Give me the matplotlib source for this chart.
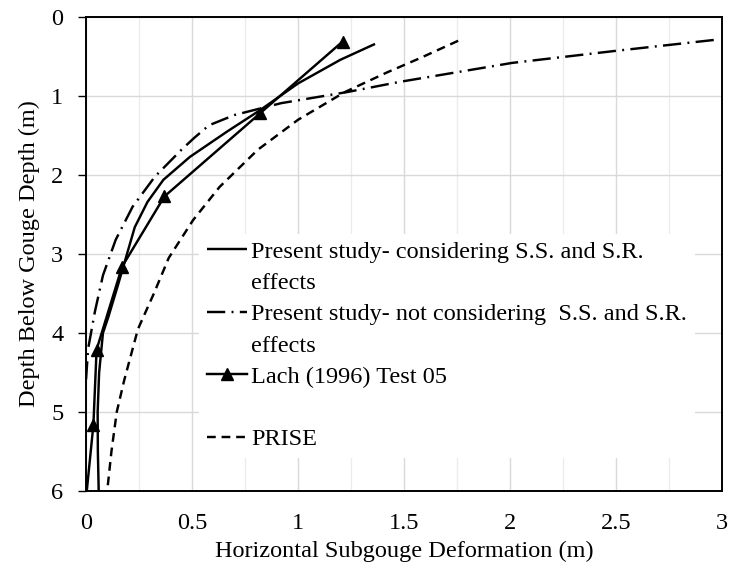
import matplotlib
matplotlib.use("Agg")
import matplotlib.pyplot as plt
from matplotlib.lines import Line2D
from matplotlib.ticker import MultipleLocator

plt.rcParams['font.family'] = ['Liberation Serif', 'DejaVu Serif']

# Present study - considering S.S. and S.R. effects
ps_x = [1.363, 1.20, 1.00, 0.82, 0.665, 0.49, 0.365, 0.29, 0.23, 0.19, 0.15, 0.105, 0.08, 0.062, 0.055, 0.056, 0.06]
ps_y = [0.34, 0.54, 0.84, 1.18, 1.45, 1.77, 2.06, 2.34, 2.66, 3.03, 3.40, 3.80, 4.00, 4.50, 5.00, 5.50, 6.00]

# Present study - not considering S.S. and S.R. effects
pn_x = [2.96, 2.49, 2.01, 1.48, 1.23, 0.92, 0.70, 0.58, 0.51, 0.45, 0.325, 0.22, 0.14, 0.08, 0.042, 0.01, 0.0]
pn_y = [0.29, 0.43, 0.58, 0.82, 0.95, 1.09, 1.24, 1.37, 1.53, 1.68, 2.02, 2.40, 2.82, 3.27, 3.73, 4.20, 4.60]

# Lach (1996) Test 05
lach_x = [1.21, 0.82, 0.37, 0.17, 0.05, 0.035, 0.0]
lach_y = [0.31, 1.22, 2.27, 3.16, 4.21, 5.16, 6.10]

# PRISE
pr_x = [1.755, 1.575, 1.42, 1.22, 1.00, 0.81, 0.63, 0.505, 0.39, 0.32, 0.245, 0.18, 0.145, 0.12, 0.10]
pr_y = [0.30, 0.52, 0.70, 0.95, 1.30, 1.68, 2.15, 2.57, 3.05, 3.50, 3.95, 4.60, 5.00, 5.50, 6.00]

labels = ["Present study- considering S.S. and S.R.",
          "Present study- not considering  S.S. and S.R.",
          "Lach (1996) Test 05",
          "PRISE"]
second_line = "effects"

x_ticks = [0, 0.5, 1, 1.5, 2, 2.5, 3]
x_tick_labels = ["0", "0.5", "1", "1.5", "2", "2.5", "3"]
y_ticks = [0, 1, 2, 3, 4, 5, 6]

FS = 17.5

fig = plt.figure(figsize=(7.33, 5.69), dpi=100)
ax = fig.add_axes([0.1173, 0.137, 0.868, 0.833])

lw = 1.75
l1, = ax.plot(ps_x, ps_y, color='black', lw=lw, solid_capstyle='butt')
l2, = ax.plot(pn_x, pn_y, color='black', lw=lw, linestyle=(0, (7.5, 2.6, 0.8, 2.6)))
l3, = ax.plot(lach_x, lach_y, color='black', lw=lw, marker='^', markersize=8,
              markevery=slice(0, 6))
l4, = ax.plot(pr_x, pr_y, color='black', lw=lw, linestyle=(0, (3.6, 2.4)))

ax.set_xlim(0, 3)
ax.set_ylim(6, 0)
ax.set_xticks(x_ticks)
ax.set_xticklabels(x_tick_labels)
ax.set_yticks(y_ticks)
ax.xaxis.set_minor_locator(MultipleLocator(0.25))

ax.grid(True, which='major', color='#d9d9d9', lw=1.0)
ax.grid(True, which='minor', axis='x', color='#ececec', lw=1.0)
ax.set_axisbelow(True)

ax.tick_params(axis='x', which='both', length=0, labelsize=FS, pad=16)
ax.tick_params(axis='y', which='major', length=5.8, width=1, direction='out',
               labelsize=FS, pad=10.5)
for s in ax.spines.values():
    s.set_color('black')
    s.set_linewidth(1.4)

ax.set_xlabel("Horizontal Subgouge Deformation (m)", fontsize=FS, labelpad=5)
ax.set_ylabel("Depth Below Gouge Depth (m)", fontsize=FS, labelpad=8)

blank = lambda: Line2D([], [], linestyle='none')
handles = [l1, blank(), l2, blank(), l3, blank(), l4]
leg_labels = [labels[0], second_line, labels[1], second_line, labels[2], " ", labels[3]]
leg = ax.legend(handles, leg_labels, loc='upper left', bbox_to_anchor=(0.178, 0.543),
                frameon=True, fontsize=FS, handlelength=1.65, handletextpad=0.2,
                labelspacing=0.38, borderpad=0.3, borderaxespad=0, numpoints=1,
                fancybox=False)
leg.get_frame().set_edgecolor('none')
leg.get_frame().set_facecolor('white')
leg.get_frame().set_alpha(1)

fig.savefig("out.png", dpi=100)
